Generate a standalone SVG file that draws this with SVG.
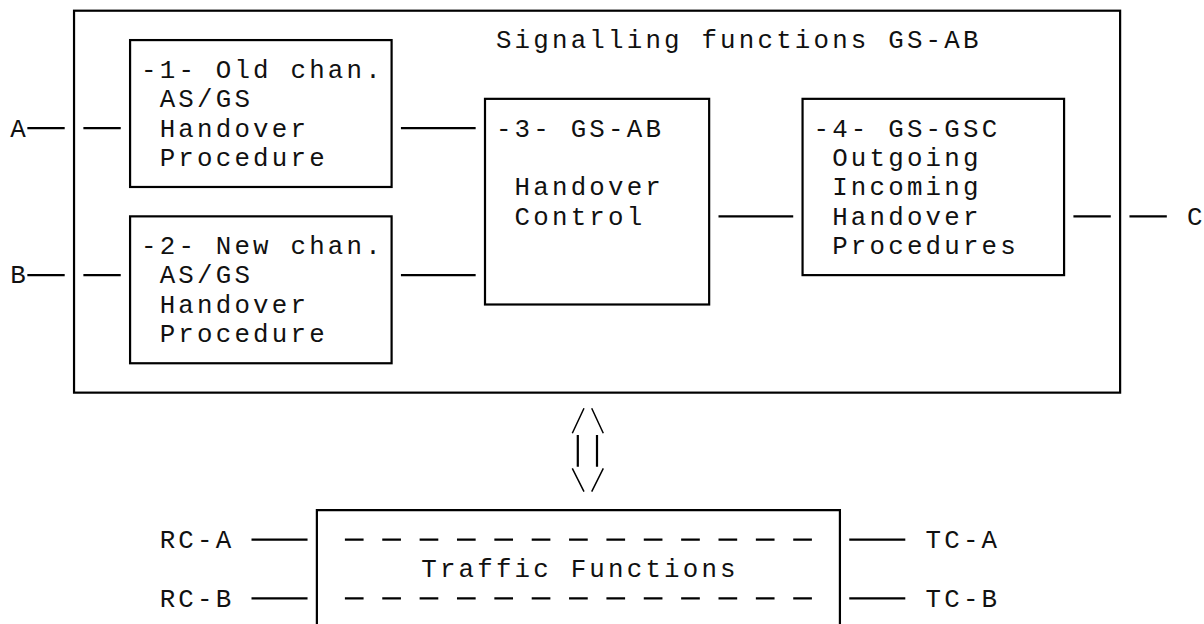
<svg xmlns="http://www.w3.org/2000/svg" width="1204" height="624" viewBox="0 0 1204 624">
<style>
.box{fill:none;stroke:#000;stroke-width:2.2}
.ln{fill:none;stroke:#000;stroke-width:2.2}
.sl{fill:none;stroke:#000;stroke-width:1.5}
.t{font-family:"Liberation Mono","Courier New",monospace;font-size:25.8px;letter-spacing:3.2px;fill:#111}
</style>
<rect width="1204" height="624" fill="#fff"/>
<g id="signalling-functions">
<rect class="box" x="74.04" y="10.7" width="1046.08" height="381.94"/>
<text class="t" x="495.94" y="48.4">Signalling functions GS-AB</text>
</g>
<g id="box1">
<rect class="box" x="130.08" y="40.08" width="261.52" height="146.9"/>
<text class="t" x="141.02" y="77.8">-1- Old chan.</text>
<text class="t" x="159.7" y="107.1">AS/GS</text>
<text class="t" x="159.7" y="136.5">Handover</text>
<text class="t" x="159.7" y="165.9">Procedure</text>
</g>
<g id="box2">
<rect class="box" x="130.08" y="216.36" width="261.52" height="146.9"/>
<text class="t" x="141.02" y="254">-2- New chan.</text>
<text class="t" x="159.7" y="283.4">AS/GS</text>
<text class="t" x="159.7" y="312.8">Handover</text>
<text class="t" x="159.7" y="342.2">Procedure</text>
</g>
<g id="box3">
<rect class="box" x="485" y="98.84" width="224.16" height="205.66"/>
<text class="t" x="495.94" y="136.5">-3- GS-AB</text>
<text class="t" x="514.62" y="195.3">Handover</text>
<text class="t" x="514.62" y="224.7">Control</text>
</g>
<g id="box4">
<rect class="box" x="802.56" y="98.84" width="261.52" height="176.28"/>
<text class="t" x="813.5" y="136.5">-4- GS-GSC</text>
<text class="t" x="832.18" y="165.9">Outgoing</text>
<text class="t" x="832.18" y="195.3">Incoming</text>
<text class="t" x="832.18" y="224.7">Handover</text>
<text class="t" x="832.18" y="254">Procedures</text>
</g>
<g id="traffic-functions">
<path class="box" d="M316.88,630 V510.16 H839.92 V630"/>
<line class="ln" x1="344.9" y1="539.54" x2="811.9" y2="539.54" stroke-dasharray="18.68 18.68"/>
<line class="ln" x1="344.9" y1="598.3" x2="811.9" y2="598.3" stroke-dasharray="18.68 18.68"/>
<text class="t" x="421.22" y="577.2">Traffic Functions</text>
</g>
<g id="terminals">
<text class="t" x="10.26" y="136.5">A</text>
<text class="t" x="10.26" y="283.4">B</text>
<text class="t" x="1187.1" y="224.7">C</text>
<text class="t" x="159.7" y="547.8">RC-A</text>
<text class="t" x="159.7" y="606.6">RC-B</text>
<text class="t" x="925.58" y="547.8">TC-A</text>
<text class="t" x="925.58" y="606.6">TC-B</text>
</g>
<g id="connectors">
<line class="ln" x1="27.34" y1="128.22" x2="64.7" y2="128.22"/>
<line class="ln" x1="83.38" y1="128.22" x2="120.74" y2="128.22"/>
<line class="ln" x1="27.34" y1="275.12" x2="64.7" y2="275.12"/>
<line class="ln" x1="83.38" y1="275.12" x2="120.74" y2="275.12"/>
<line class="ln" x1="400.94" y1="128.22" x2="475.66" y2="128.22"/>
<line class="ln" x1="400.94" y1="275.12" x2="475.66" y2="275.12"/>
<line class="ln" x1="718.5" y1="216.36" x2="793.22" y2="216.36"/>
<line class="ln" x1="1073.42" y1="216.36" x2="1110.78" y2="216.36"/>
<line class="ln" x1="1129.46" y1="216.36" x2="1166.82" y2="216.36"/>
<line class="ln" x1="251.5" y1="539.54" x2="307.54" y2="539.54"/>
<line class="ln" x1="251.5" y1="598.3" x2="307.54" y2="598.3"/>
<line class="ln" x1="849.26" y1="539.54" x2="905.3" y2="539.54"/>
<line class="ln" x1="849.26" y1="598.3" x2="905.3" y2="598.3"/>
<g id="double-arrow">
<path class="sl" d="M572.3,433.3 L584,408.3 M591.7,408.3 L603.3,433.3"/>
<path class="ln" d="M577.8,435 V466.7 M597,435 V466.7"/>
<path class="sl" d="M572.3,468.3 L584,491.7 M591.7,491.7 L603.3,468.3"/>
</g>
</g>
</svg>
